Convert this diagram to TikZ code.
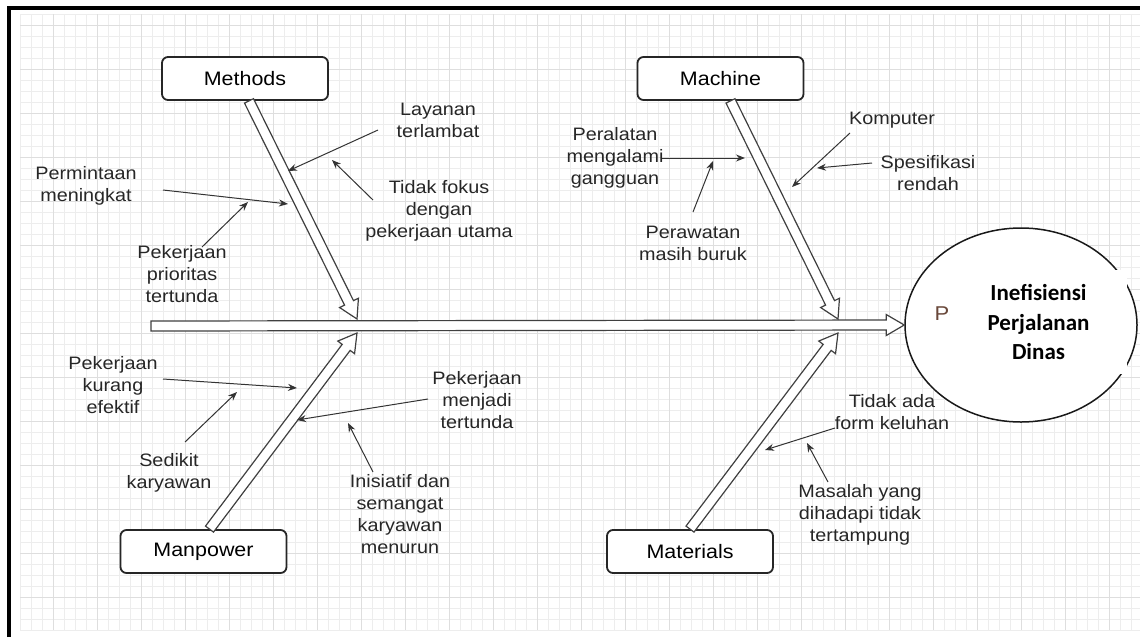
\documentclass[tikz,border=0pt]{standalone}
\usepackage{fontspec}
\setmainfont{Liberation Sans}[FakeStretch=1.1]
\newfontfamily\calfont{Carlito}
\usetikzlibrary{shapes.geometric,arrows.meta,calc}
\definecolor{pcol}{RGB}{105,72,58}

\begin{document}
\begin{tikzpicture}[x=1pt,y=-1pt,
  catbox/.style={draw=black!85, line width=1.8pt, rounded corners=6pt, fill=white,
    minimum width=166pt, minimum height=43pt, font=\fontsize{19.5}{23}\selectfont},
  cause/.style={align=center, inner sep=0pt, text=black!85, font=\fontsize{18}{22}\selectfont},
  sub/.style={draw=black!80, line width=1pt, -{Stealth[length=9pt,width=7pt]}},
  bone/.style={draw=black!75, fill=white, line width=1.2pt, line join=miter,
    to path={($(\tikztostart)!5pt!90:(\tikztotarget)$)
      -- ($(\tikztotarget)!18pt!(\tikztostart)!5pt!90:(\tikztotarget)$)
      -- ($(\tikztotarget)!18pt!(\tikztostart)!10.5pt!90:(\tikztotarget)$)
      -- (\tikztotarget)
      -- ($(\tikztotarget)!18pt!(\tikztostart)!10.5pt!-90:(\tikztotarget)$)
      -- ($(\tikztotarget)!18pt!(\tikztostart)!5pt!-90:(\tikztotarget)$)
      -- ($(\tikztostart)!5pt!-90:(\tikztotarget)$) -- cycle}},
  gridminor/.style={black!7, line width=0.8pt},
  gridmajor/.style={black!13, line width=0.8pt}]
  \useasboundingbox (0,0) rectangle (1140,637);

  % grid paper
  \foreach \gx in {20,31,...,1140} \draw[gridminor] (\gx,14) -- (\gx,630);
  \foreach \gy in {14,25,...,630} \draw[gridminor] (20,\gy) -- (1140,\gy);
  \foreach \gx in {53,97,...,1140} \draw[gridmajor] (\gx,14) -- (\gx,630);
  \foreach \gy in {25,69,...,630} \draw[gridmajor] (20,\gy) -- (1140,\gy);
  \draw[line width=4pt] (9,637) -- (9,8) -- (1140,8);

  % categories
  \node[catbox] (methods) at (245,78.5) {Methods};
  \node[catbox] (machine) at (720.5,78.5) {Machine};
  \node[catbox] (manpower) at (203.5,551.5) {Manpower};
  \node[catbox] (materials) at (690,551.5) {Materials};

  % head
  \node[ellipse, draw=black!90, line width=1.5pt, fill=white, minimum width=232pt,
    minimum height=194pt] (effect) at (1021,325) {};
  \node[anchor=base west, text=pcol, font=\fontsize{20}{24}\selectfont] (pfrag) at (931,320) {Pe};
  \node[fill=white, minimum width=177pt, minimum height=104pt, align=center,
    font=\calfont\bfseries\fontsize{23}{29.5}\selectfont] (effectlbl) at (1038.5,322)
    {Inefisiensi\\Perjalanan\\Dinas};

  % spine and bones
  \coordinate (spinetail) at (151,326);
  \coordinate (jtop1) at (357,319);
  \coordinate (jbot1) at (357,333);
  \coordinate (jtop2) at (838,319);
  \coordinate (jbot2) at (838,333);
  \draw[bone] (spinetail) to (effect.west);
  \draw[bone] ([xshift=4pt]methods.south) to (jtop1);
  \draw[bone] ([xshift=10pt]machine.south) to (jtop2);
  \draw[bone] ([xshift=6pt]manpower.north) to (jbot1);
  \draw[bone] (materials.north) to (jbot2);

  % causes
  \node[cause] (lay) at (438,120) {Layanan\\terlambat};
  \node[cause] (fokus) at (439,211) {Tidak fokus\\dengan\\pekerjaan utama};
  \node[cause] (minta) at (86,186) {Permintaan\\meningkat};
  \node[cause] (prior) at (182,274) {Pekerjaan\\prioritas\\tertunda};
  \node[cause] (alat) at (615,158) {Peralatan\\mengalami\\gangguan};
  \node[cause] (rawat) at (693,243) {Perawatan\\masih buruk};
  \node[cause] (komp) at (892,120) {Komputer};
  \node[cause] (spek) at (928,173) {Spesifikasi\\rendah};
  \node[cause] (efek) at (113,385) {Pekerjaan\\kurang\\efektif};
  \node[cause] (sedikit) at (169,473) {Sedikit\\karyawan};
  \node[cause] (tunda) at (477,400) {Pekerjaan\\menjadi\\tertunda};
  \node[cause] (inisiatif) at (400,514) {Inisiatif dan\\semangat\\karyawan\\menurun};
  \node[cause] (form) at (892,412) {Tidak ada\\form keluhan};
  \node[cause] (masalah) at (860,515) {Masalah yang\\dihadapi tidak\\tertampung};

  \coordinate (lay-tip) at (288,171);
  \coordinate (fokus-tip) at (332,160);
  \coordinate (minta-tip) at (288,204);
  \coordinate (prior-tip) at (248,202);
  \coordinate (alat-tip) at (745,158);
  \coordinate (rawat-tip) at (713,161);
  \coordinate (komp-tip) at (792,187);
  \coordinate (spek-tip) at (817,168);
  \coordinate (efek-tip) at (297,388);
  \coordinate (sedikit-tip) at (237,392);
  \coordinate (tunda-tip) at (297,420);
  \coordinate (inisiatif-tip) at (348,423);
  \coordinate (form-tip) at (765,450);
  \coordinate (masalah-tip) at (807,443);

  \draw[sub] ([shift={(-60,10)}]lay.center) -- (lay-tip);
  \draw[sub] ([shift={(-66,-11)}]fokus.center) -- (fokus-tip);
  \draw[sub] ([shift={(77,4)}]minta.center) -- (minta-tip);
  \draw[sub] ([shift={(20,-27)}]prior.center) -- (prior-tip);
  \draw[sub] ([shift={(47,0)}]alat.center) -- (alat-tip);
  \draw[sub] ([shift={(0,-31)}]rawat.center) -- (rawat-tip);
  \draw[sub] ([shift={(-42,13)}]komp.center) -- (komp-tip);
  \draw[sub] ([shift={(-56,-10)}]spek.center) -- (spek-tip);
  \draw[sub] ([shift={(50,-6)}]efek.center) -- (efek-tip);
  \draw[sub] ([shift={(16,-31)}]sedikit.center) -- (sedikit-tip);
  \draw[sub] ([shift={(-49,-1)}]tunda.center) -- (tunda-tip);
  \draw[sub] ([shift={(-27,-42)}]inisiatif.center) -- (inisiatif-tip);
  \draw[sub] ([shift={(-57,16)}]form.center) -- (form-tip);
  \draw[sub] ([shift={(-32,-33)}]masalah.center) -- (masalah-tip);
\end{tikzpicture}
\end{document}
